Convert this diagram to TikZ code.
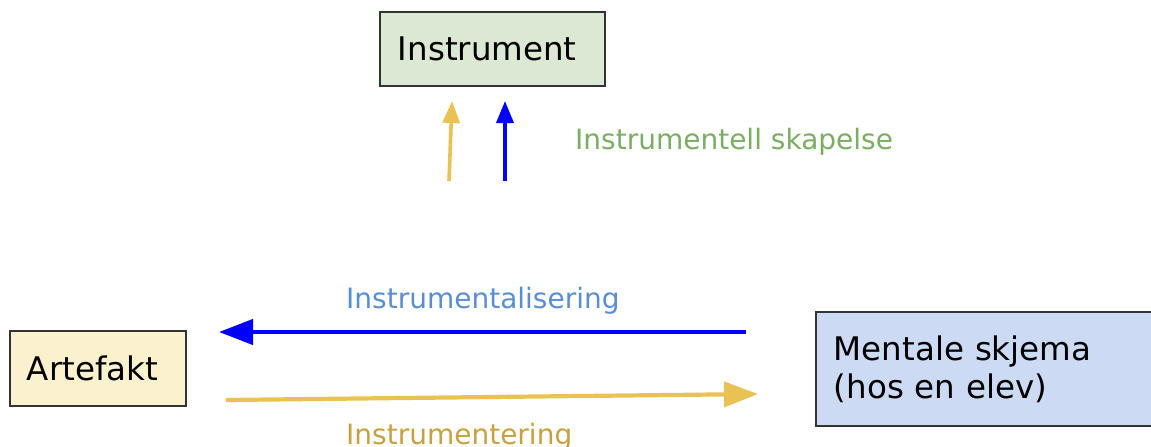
\documentclass[tikz,border=0pt]{standalone}
\usepackage{fontspec}
\setmainfont{DejaVu Sans}
\usetikzlibrary{arrows.meta}

\definecolor{instrfill}{HTML}{DAE8D4}
\definecolor{artfill}{HTML}{FCF1CF}
\definecolor{mentfill}{HTML}{CCDAF4}
\definecolor{edge}{HTML}{333333}
\definecolor{gold}{HTML}{EAC254}
\definecolor{pureblue}{HTML}{0000FF}
\definecolor{greenlabel}{HTML}{7AAE62}
\definecolor{bluelabel}{HTML}{5A8ED3}
\definecolor{goldlabel}{HTML}{C8A13F}

\tikzset{
  box/.style={draw=edge, line width=1.8pt, anchor=north west, align=left,
    inner ysep=0pt, font=\fontsize{32.5}{38}\selectfont},
  lbl/.style={anchor=base west, inner sep=0pt, font=\fontsize{28}{34}\selectfont},
  uparrow/.style={line width=3.6pt, -{Triangle[length=22pt,width=17pt]}},
  sidearrow/.style={line width=4.2pt, -{Triangle[length=34pt,width=25pt]}},
}

\begin{document}
\begin{tikzpicture}[x=1pt, y=-1pt]
\useasboundingbox (0,0) rectangle (1151,447);

% boxes
\node[box, fill=instrfill, minimum width=225pt, minimum height=74pt,
      text width=189pt, inner xsep=18pt] (instr) at (379,11) {Instrument};
\node[box, fill=artfill, minimum width=176pt, minimum height=75pt,
      text width=142pt, inner xsep=17pt] (art) at (9,330) {Artefakt};
\node[box, fill=mentfill, minimum width=350pt, minimum height=114pt,
      text width=332pt, inner xsep=18pt] (ment) at (815,311) {Mentale skjema\\(hos en elev)};

% free arrow ends
\coordinate (ys) at (449,181);
\coordinate (ye) at (452,101);
\coordinate (bs) at (505,181);
\coordinate (be) at (505,101);
\coordinate (ls) at (746,332);
\coordinate (le) at (219,332);
\coordinate (rs) at (226,400);
\coordinate (re) at (758,394);

% arrows
\draw[uparrow, gold] (ys) -- (ye);
\draw[uparrow, pureblue] (bs) -- (be);
\draw[sidearrow, pureblue] (ls) -- (le);
\draw[sidearrow, gold] (rs) -- (re);

% labels
\node[lbl, text=greenlabel] (lskap) at (575,149) {Instrumentell skapelse};
\node[lbl, text=bluelabel] (lalis) at (346,308) {Instrumentalisering};
\node[lbl, text=goldlabel] (lent) at (346,444) {Instrumentering};
\end{tikzpicture}
\end{document}
